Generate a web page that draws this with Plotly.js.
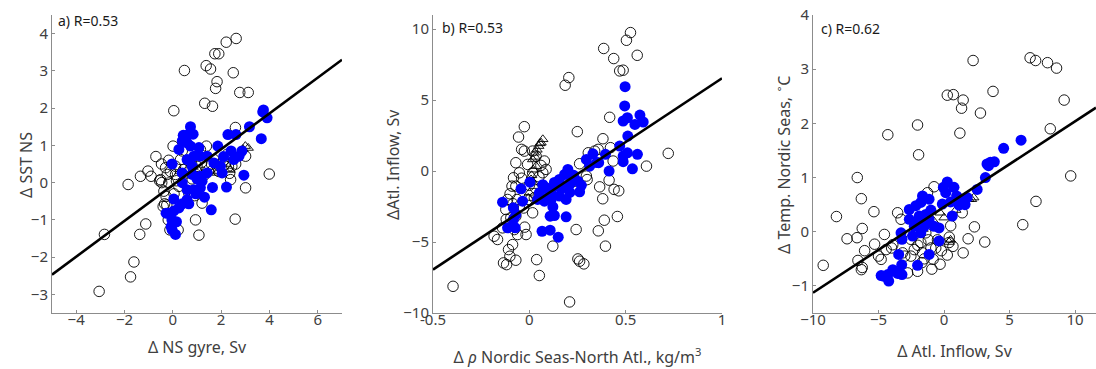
<!DOCTYPE html>
<html>
<head>
<meta charset="utf-8">
<script src="https://cdn.plot.ly/plotly-3.0.1.min.js"></script>
<style>html,body{margin:0;padding:0;background:#fff;}#chart{width:1096px;height:369px;}</style>
</head>
<body>
<div id="chart"></div>
<script>
// ---------- Panel a: Δ NS gyre (Sv) vs Δ SST NS ----------
const aCircX = [-3.05,-2.83,-1.75,-1.61,-1.37,-1.12,-1.85,-1.34,-1.03,-0.9,-0.70,-0.51,-0.47,-0.46,-0.37,-0.34,-0.40,-0.23,-0.17,-0.17,0.04,0.01,0.11,-0.19,-0.12,0.22,0.48,0.94,1.08,1.21,1.38,1.56,1.32,1.64,1.74,1.90,1.83,1.77,2.21,2.62,2.50,2.77,3.12,2.59,1.39,2.58,3.01,3.99,3.01,2.39,2.30,2.44,0.39,1.14,1.70,0.59,1.0,2.25,0.11,0.32,-0.28,0.25,0.66,-0.55,-0.3,0.15,0.45,0.8,1.3,1.6,1.9,2.1,0.7,-0.1,-0.25,0.05,0.9,1.2,2.35,2.6];
const aCircY = [-2.92,-1.39,-2.53,-2.13,-1.39,-1.11,-0.05,0.17,0.31,0.17,0.70,0.08,0.50,0.0,-0.23,-0.57,-0.64,0.22,0.60,-0.01,1.93,0.98,0.22,-1.0,-1.27,-1.27,3.01,-1.0,-1.41,-0.55,3.14,3.05,2.13,2.05,3.46,3.46,2.71,2.53,3.77,3.87,2.95,2.42,2.42,1.48,0.98,-0.98,-0.14,0.23,0.71,0.08,0.44,0.44,0.85,0.89,0.62,0.26,0.44,0.76,0.44,0.62,-0.37,-0.10,-0.28,0.05,0.4,0.05,0.35,0.1,0.2,0.5,0.3,0.6,0.55,0.3,-0.6,-0.3,-0.35,0.55,0.25,0.5];
const aTriX = [3.12,3.0,2.9,2.78,2.37,2.2,1.82,1.54,1.7,1.05,0.92,0.84,0.58,1.3,0.3,0.7];
const aTriY = [0.93,0.98,0.9,0.8,0.34,0.5,0.26,0.34,0.3,0.34,0.2,0.42,0.34,0.3,0.3,0.25];
const aBlueX = [3.75,3.72,3.90,3.66,3.17,2.61,2.28,2.94,2.22,1.64,1.59,1.86,2.41,2.74,2.86,2.52,1.97,2.04,1.70,1.42,0.73,0.57,0.43,0.84,0.39,0.59,0.73,1.08,0.25,-0.03,0.87,1.14,0.59,0.80,0.39,0.80,1.14,1.21,0.39,0.59,0.87,1.14,1.31,0.04,0.59,0.39,0.66,0.25,0.04,-0.28,-0.18,-0.04,0.15,-0.07,-0.03,0.11,0.95,1.42,1.0,2.1];
const aBlueY = [1.95,1.90,1.74,1.18,1.50,1.29,1.29,0.20,-0.12,-0.13,-0.73,0.98,0.85,0.71,0.85,0.62,0.44,0.26,0.53,0.71,1.50,1.27,1.27,1.30,1.12,1.07,0.98,0.94,0.89,0.50,0.71,0.71,0.62,0.44,0.26,0.22,0.17,0.04,0.0,-0.19,-0.19,-0.14,-0.39,-0.44,-0.46,-0.57,-0.57,-0.68,-0.76,-0.82,-0.82,-1.0,-1.05,-1.18,-1.27,-1.39,-0.3,0.26,0.1,0.7];
const aLineX = [-5, 7];
const aLineY = [-2.47, 3.30];

// ---------- Panel b: Δρ Nordic Seas-North Atl. vs Δ Atl. Inflow ----------
const bCircX = [-0.396,0.209,0.052,0.038,0.252,0.261,0.283,0.122,0.243,0.358,0.395,0.389,0.457,0.381,0.365,0.414,0.440,0.464,0.608,0.721,0.417,0.382,0.249,0.261,0.339,0.296,0.421,0.435,0.469,0.487,0.438,0.386,0.504,0.525,0.560,0.205,0.186,-0.026,-0.056,-0.040,-0.026,-0.070,-0.082,-0.09,-0.113,-0.122,-0.096,-0.078,-0.061,-0.017,-0.024,-0.087,-0.108,-0.101,-0.134,-0.118,-0.070,-0.183,-0.165,-0.139,0.078,0.087,0.07,0.017,-0.009,0.017,0.035,-0.064,-0.052,-0.07,-0.009,0.026,0.017,-0.07,-0.052,0.306,0.357,0.235,-0.04,-0.1,0.0,-0.03,0.05,-0.085,-0.12,0.06,0.3,0.21];
const bCircY = [-8.12,-9.22,-7.36,-6.24,-6.19,-6.35,-6.54,-5.29,-4.12,-4.21,-5.29,-3.46,-3.20,-1.95,-1.11,-0.64,-1.29,-1.39,0.35,1.25,3.79,2.28,2.78,0.52,1.41,-0.35,1.65,0.71,7.06,7.11,7.93,8.64,9.22,9.76,8.16,6.59,6.05,3.13,2.40,1.53,1.41,0.59,-0.47,-1.06,-2.0,-2.71,-3.29,-4.12,-4.47,-4.47,-3.95,-5.18,-5.53,-6.0,-6.47,-6.59,-6.28,-4.59,-4.82,-4.0,0.71,0.12,-0.12,-0.12,0.47,1.41,1.06,-2.0,-2.47,-3.18,-2.0,-1.88,-2.94,-1.06,-0.12,1.29,1.53,-0.71,-0.5,-1.6,-1.0,-2.6,-0.4,-2.3,-3.4,0.4,-0.6,-0.9];
const bTriX = [0.061,0.07,0.049,0.055,0.04,0.026,0.03,0.017,0.035,0.02,0.009,0.026,0.0,0.012,-0.005,0.02];
const bTriY = [2.0,2.24,1.76,1.95,1.5,1.29,1.0,0.82,0.35,0.1,-0.59,-1.06,-1.53,-0.3,-1.9,-0.8];
const bBlueX = [0.497,0.495,0.509,0.487,0.574,0.591,0.548,0.511,0.469,0.509,0.487,0.487,0.561,0.535,0.414,0.395,0.360,0.330,0.296,0.313,0.2,0.183,0.156,0.226,0.252,0.261,0.209,0.148,0.113,0.07,0.052,0.043,0.078,0.113,0.156,0.191,0.122,0.130,0.108,0.191,0.066,0.108,0.15,0.003,-0.043,-0.035,-0.139,-0.083,-0.07,-0.083,-0.113,-0.073,0.17,0.23,0.1,0.27,0.35,0.13,0.21,0.09];
const bBlueY = [5.95,4.59,3.76,3.53,3.95,3.46,3.29,2.47,1.76,1.29,1.06,0.66,1.18,0.16,0.0,1.18,0.59,1.22,0.82,0.35,0.12,-0.24,-0.59,-0.47,-0.71,-1.46,-0.94,-1.06,-1.41,-0.96,-1.53,-2.0,-2.12,-2.0,-1.76,-2.0,-2.52,-3.13,-3.18,-3.22,-4.24,-4.16,-4.66,-0.78,-1.25,-2.12,-2.19,-2.59,-3.06,-3.41,-4.0,-4.0,-1.2,-0.3,-1.8,-1.0,0.6,-0.8,-1.5,-1.2];
const bLineX = [-0.5, 1];
const bLineY = [-6.94, 6.54];

// ---------- Panel c: Δ Atl. Inflow vs Δ Temp. Nordic Seas ----------
const cCircX = [-9.22,-8.21,-7.40,-6.62,-6.31,-6.57,-6.64,-6.24,-6.31,-6.24,-6.06,-5.35,-5.30,-4.55,-4.29,-4.80,-4.42,-3.91,-3.54,-3.28,-3.16,-2.78,-2.02,-1.94,-2.02,-2.53,-2.27,-1.64,-1.26,-0.93,-0.83,-0.76,-0.63,0.25,0.25,0.71,1.46,1.34,1.21,2.22,2.78,3.74,2.32,1.84,1.46,3.11,1.39,0.51,0.38,0.68,6.57,6.99,7.90,8.59,9.17,8.11,9.67,7.02,6.01,-1.39,-1.77,-2.27,-2.53,-1.69,-0.5,-0.2,-1.0,-1.5,-2.0,-3.0,-4.0,-5.0,-0.3,0.4,-1.2];
const cCircY = [-0.62,0.28,-0.13,1.0,0.61,-0.53,-0.11,0.06,-0.70,-0.66,-0.35,0.37,-0.23,-0.05,1.79,-0.51,-0.33,-0.24,0.35,0.23,-0.39,-0.76,1.97,1.42,-0.73,-0.14,-0.33,-0.39,0.72,-0.69,-0.51,0.83,-0.30,-0.43,2.52,2.53,2.43,2.28,1.82,3.16,2.19,2.59,0.09,-0.13,-0.39,-0.19,0.35,0.11,-0.2,-0.27,3.21,3.16,3.12,3.02,2.43,1.90,1.03,0.56,0.13,-0.02,-0.2,-0.02,-0.45,-0.57,-0.15,-0.35,-0.3,-0.5,-0.25,-0.45,-0.3,-0.45,-0.6,-0.1,-0.15];
const cTriX = [2.27,2.1,1.89,1.6,1.2,0.0,-0.3,0.38,0.5,-0.8,-1.6,0.9];
const cTriY = [0.63,0.6,0.60,0.55,0.5,0.26,0.35,-0.19,-0.15,0.2,0.05,0.4];
const cBlueX = [5.88,4.55,3.28,3.54,3.84,3.4,3.16,2.53,1.77,1.3,0.76,0.25,-0.05,0.13,0.96,1.14,0.63,-0.13,-1.14,-1.77,-2.15,-2.65,-1.64,-1.39,-1.89,-2.65,-2.27,-1.14,-0.76,-0.38,-0.38,-1.77,-2.4,-3.28,-3.21,-1.14,-3.46,-3.23,-2.02,-4.62,-4.22,-4.29,-3.91,-3.54,-3.21,-4.80,-1.0,-2.0,-1.5,0.5,1.6];
const cBlueY = [1.69,1.54,1.25,1.28,1.29,1.22,1.0,0.78,0.63,0.6,0.82,0.92,0.82,0.72,0.66,0.49,0.29,0.51,0.60,0.54,0.48,0.41,0.66,0.32,0.29,0.23,0.10,0.23,0.10,0.07,-0.17,-0.02,-0.08,-0.02,-0.14,-0.42,-0.42,-0.61,-0.62,-0.82,-0.91,-0.79,-0.70,-0.77,-0.79,-0.81,0.4,0.2,0.1,0.55,0.5];
const cLineX = [-10, 11.6];
const cLineY = [-1.125, 2.29];

// ---------- layout helpers ----------
const W = 1096, H = 369, ML = 52, MR = 0, MT = 15, MB = 56;
const PW = W - ML - MR, PH = H - MT - MB;
const px = p => (p - ML) / PW;
const py = p => (H - MB - p) / PH;

const circ = (x, y, xa, ya) => ({x, y, xaxis: xa, yaxis: ya, type: 'scatter', mode: 'markers', hoverinfo: 'skip',
  marker: {symbol: 'circle-open', size: 10.5, color: '#000', line: {width: 0.9, color: '#000'}}});
const tri = (x, y, xa, ya) => ({x, y, xaxis: xa, yaxis: ya, type: 'scatter', mode: 'markers', hoverinfo: 'skip',
  marker: {symbol: 'triangle-up-open', size: 9, color: '#000', line: {width: 0.9, color: '#000'}}});
const blue = (x, y, xa, ya) => ({x, y, xaxis: xa, yaxis: ya, type: 'scatter', mode: 'markers', hoverinfo: 'skip',
  marker: {symbol: 'circle', size: 11, color: '#0000ff', line: {width: 0}}});
const line = (x, y, xa, ya) => ({x, y, xaxis: xa, yaxis: ya, type: 'scatter', mode: 'lines', hoverinfo: 'skip',
  line: {color: '#000', width: 2.6}});

const data = [
  circ(aCircX, aCircY, 'x', 'y'), tri(aTriX, aTriY, 'x', 'y'), blue(aBlueX, aBlueY, 'x', 'y'), line(aLineX, aLineY, 'x', 'y'),
  circ(bCircX, bCircY, 'x2', 'y2'), tri(bTriX, bTriY, 'x2', 'y2'), blue(bBlueX, bBlueY, 'x2', 'y2'), line(bLineX, bLineY, 'x2', 'y2'),
  circ(cCircX, cCircY, 'x3', 'y3'), tri(cTriX, cTriY, 'x3', 'y3'), blue(cBlueX, cBlueY, 'x3', 'y3'), line(cLineX, cLineY, 'x3', 'y3')
];

const FONT = 'Noto Sans, Open Sans, DejaVu Sans, sans-serif';
const TXT = '#404040';
const axBase = {
  showgrid: false, zeroline: false, showline: true, linecolor: '#8c8c8c', linewidth: 1,
  ticks: 'inside', ticklen: 3, tickcolor: '#8c8c8c', tickwidth: 1, mirror: false,
  tickfont: {family: FONT, size: 15, color: TXT}, fixedrange: true
};
const xBase = Object.assign({}, axBase, {ticklabelstandoff: -7});
const ttl = (text, standoff) => ({text, standoff, font: {family: FONT, size: 16, color: TXT}});
const yTitle = (text, xPix) => ({text, x: px(xPix), y: py(165), xref: 'paper', yref: 'paper', xanchor: 'center', yanchor: 'middle',
  textangle: -90, showarrow: false, font: {family: FONT, size: 16, color: TXT}});
const panelLabel = (text, xPix, yPix) => ({text, x: px(xPix), y: py(yPix), xref: 'paper', yref: 'paper', xanchor: 'left', yanchor: 'middle',
  showarrow: false, font: {family: FONT, size: 14, color: '#1a1a1a'}});

const layout = {
  width: W, height: H, showlegend: false,
  margin: {l: ML, r: MR, t: MT, b: MB, pad: 0},
  paper_bgcolor: '#fff', plot_bgcolor: '#fff',
  font: {family: FONT},
  xaxis:  Object.assign({}, xBase, {domain: [px(52), px(342)], range: [-5, 7], tickvals: [-4,-2,0,2,4,6], anchor: 'y', title: ttl('Δ NS gyre, Sv', 13)}),
  yaxis:  Object.assign({}, axBase, {domain: [0, 1], range: [-3.5, 4.5], tickvals: [-3,-2,-1,0,1,2,3,4], anchor: 'x'}),
  xaxis2: Object.assign({}, xBase, {domain: [px(433), px(722)], range: [-0.5, 1], tickvals: [-0.5,0,0.5,1], ticktext: ['-0.5','0','0.5','1'], anchor: 'y2', title: ttl('Δ <i>ρ</i> Nordic Seas-North Atl., kg/m<sup>3</sup>', 23)}),
  yaxis2: Object.assign({}, axBase, {domain: [0, 1], range: [-10, 11], tickvals: [-10,-5,0,5,10], anchor: 'x2'}),
  xaxis3: Object.assign({}, xBase, {domain: [px(813), 1], range: [-10, 11.6], tickvals: [-10,-5,0,5,10], anchor: 'y3', title: ttl('Δ Atl. Inflow, Sv', 17)}),
  yaxis3: Object.assign({}, axBase, {domain: [0, 1], range: [-1.5, 4], tickvals: [-1,0,1,2,3,4], anchor: 'x3'}),
  annotations: [
    yTitle('Δ SST NS', 26),
    yTitle('ΔAtl. Inflow, Sv', 393),
    yTitle('Δ Temp. Nordic Seas, <sup>∘</sup>C', 783),
    panelLabel('a) R=0.53', 56, 21),
    panelLabel('b) R=0.53', 440, 27),
    panelLabel('c) R=0.62', 819, 28)
  ]
};

Plotly.newPlot('chart', data, layout, {staticPlot: true, displayModeBar: false});
</script>
</body>
</html>
